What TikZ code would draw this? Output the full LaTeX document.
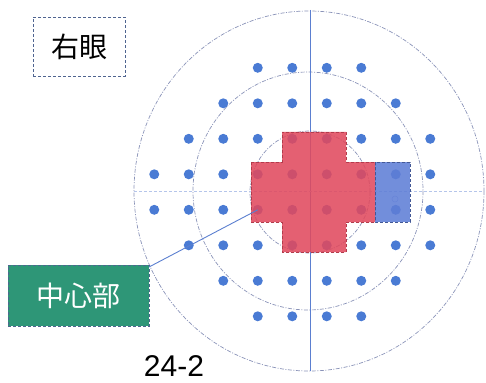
\documentclass[tikz,border=0pt]{standalone}
\usepackage{fontspec}
\newfontfamily\cjk{Noto Sans CJK JP}
\setmainfont{Liberation Sans}
\definecolor{dotblue}{HTML}{4A7BD4}
\definecolor{ringcol}{HTML}{8A93B8}
\definecolor{axiscol}{HTML}{5B7FD0}
\definecolor{crossred}{HTML}{E04A5E}
\definecolor{rectblue}{HTML}{5F7ED6}
\definecolor{labgreen}{HTML}{2E9677}
\definecolor{boxedge}{HTML}{4F6490}
\begin{document}
\begin{tikzpicture}[x=1pt,y=-1pt,
  ring/.style={draw=ringcol,line width=0.7pt,dash pattern=on 4pt off 1.5pt on 1pt off 1.5pt},
  dotpt/.style={circle,fill=dotblue,inner sep=0pt,minimum size=10pt},
  tagbox/.style={draw=boxedge,densely dashed,line width=0.8pt,inner sep=0pt}]
\useasboundingbox (0,0) rectangle (486,382);
% rings
\draw[ring] (309,191) ellipse [x radius=175,y radius=180];
\draw[ring] (308,191) ellipse [x radius=115,y radius=119];
\draw[ring] (310,192) ellipse [x radius=60,y radius=61];
% axes
\coordinate (vt) at (310,10);
\coordinate (vb) at (310,371);
\coordinate (hl) at (134,191);
\coordinate (hr) at (484,191);
\draw[axiscol,line width=0.8pt] (vt) -- (vb);
\draw[axiscol!45,line width=0.6pt,dash pattern=on 3pt off 2pt] (hl) -- (hr);
% dots
\foreach \r/\a/\b in {0/-2/1,1/-3/2,2/-4/3,3/-5/3,4/-5/3,5/-4/3,6/-3/2,7/-2/1}{
  \foreach \c in {\a,...,\b}{
    \node[dotpt] (d\r\c) at ({309.5+34.5*(\c+0.5)},{67.8+35.5*\r}) {};
  }
}
% blind spot marker
\node[circle,draw=rectblue!60,line width=0.5pt,inner sep=0pt,minimum size=6pt] (bs) at (395,199) {};
% central cross
\fill[crossred,fill opacity=0.88] (251,162) -- (282,162) -- (282,132) -- (346,132) -- (346,162) -- (375,162)
  -- (375,222) -- (346,222) -- (346,252) -- (282,252) -- (282,222) -- (251,222) -- cycle;
\draw[crossred!80!black,densely dashed,line width=0.4pt] (251,162) -- (282,162) -- (282,132) -- (346,132) -- (346,162) -- (375,162)
  -- (375,222) -- (346,222) -- (346,252) -- (282,252) -- (282,222) -- (251,222) -- cycle;
\fill[rectblue,fill opacity=0.88] (375,162) rectangle (410,222);
\draw[rectblue!70!black,densely dashed,line width=0.4pt] (375,162) rectangle (410,222);
% labels
\node[tagbox,fill=white,minimum width=92pt,minimum height=59pt] (eye) at (79,46.5)
  {\cjk\fontsize{28}{30}\selectfont 右眼};
\node[tagbox,fill=labgreen,text=white,minimum width=141pt,minimum height=61pt] (center) at (78.5,295.5)
  {\cjk\fontsize{28}{30}\selectfont 中心部};
\node[inner sep=0pt] (title) at (174,366) {\fontsize{30}{32}\selectfont 24-2};
% leader
\coordinate (lstart) at (149,267);
\draw[axiscol,line width=0.9pt] (lstart) -- (d4-2.center);
\end{tikzpicture}
\end{document}
